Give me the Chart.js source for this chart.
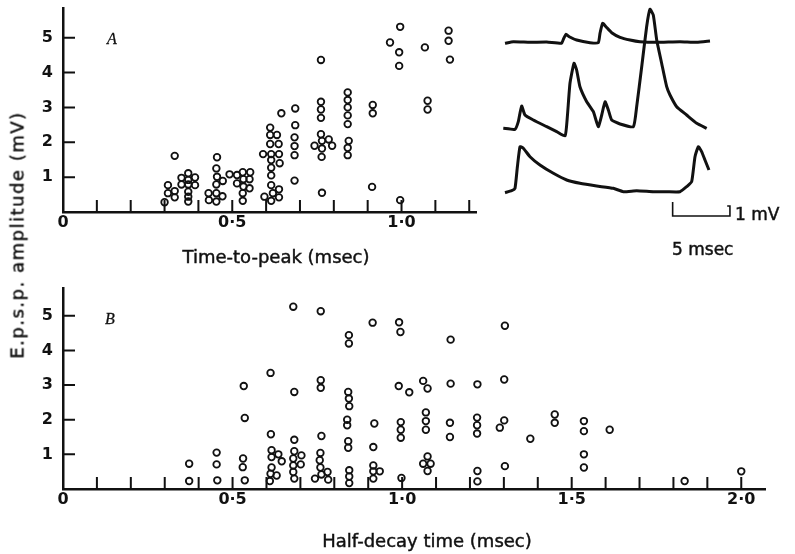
<!DOCTYPE html>
<html>
<head>
<meta charset="utf-8">
<script src="https://cdn.jsdelivr.net/npm/chart.js@4.4.1/dist/chart.umd.min.js"></script>
<style>
  body { margin: 0; background: #fff; width: 795px; height: 554px; position: relative; overflow: hidden;
         font-family: "DejaVu Sans", sans-serif; color: #111; }
  canvas { position: absolute; }
  .lbl { position: absolute; white-space: nowrap; font-size: 18px; transform: translate(-50%, -50%);
         -webkit-text-stroke: 0.45px #111; }
  .tag { position: absolute; font-family: "Liberation Serif", serif; font-style: italic; font-size: 16px;
         transform: translate(-50%, -50%); -webkit-text-stroke: 0.3px #111; }
</style>
</head>
<body>
<canvas id="chartA" width="490" height="280" style="left:0;top:0"></canvas>
<canvas id="chartB" width="795" height="274" style="left:0;top:280px"></canvas>
<canvas id="traces" width="275" height="250" style="left:490px;top:0"></canvas>

<div class="lbl" style="left:17px;top:235px;transform:translate(-50%,-50%) rotate(-90deg);letter-spacing:1.5px">E.p.s.p. amplitude (mV)</div>
<div class="lbl" style="left:276px;top:256px">Time-to-peak (msec)</div>
<div class="lbl" style="left:427px;top:540px">Half-decay time (msec)</div>
<div class="tag" style="left:112px;top:39px">A</div>
<div class="tag" style="left:110px;top:319px">B</div>
<div class="lbl" style="left:735px;top:214px;transform:translate(0,-50%);font-size:17px">1 mV</div>
<div class="lbl" style="left:672px;top:249px;transform:translate(0,-50%);font-size:17px">5 msec</div>

<script>
// panel A: time-to-peak (msec) vs e.p.s.p. amplitude (mV)
const peakA = [
  [0.31,0.77],[0.33,0.60],[0.31,0.54],[0.33,0.42],[0.30,0.28],[0.33,1.61],
  [0.37,1.11],[0.35,0.98],[0.39,0.99],[0.37,0.92],[0.35,0.79],[0.37,0.79],[0.39,0.77],[0.37,0.58],[0.37,0.44],[0.37,0.30],
  [0.455,1.57],[0.453,1.25],[0.455,1.01],[0.472,0.89],[0.453,0.79],[0.43,0.54],[0.453,0.54],[0.471,0.45],[0.431,0.34],[0.453,0.30],
  [0.492,1.08],
  [0.514,1.06],[0.531,1.14],[0.553,1.14],[0.514,0.82],[0.533,0.94],[0.551,0.94],[0.533,0.73],[0.551,0.68],[0.531,0.54],[0.531,0.32],
  [0.612,2.42],[0.612,2.21],[0.632,2.21],[0.612,1.95],[0.637,1.95],[0.591,1.66],[0.615,1.66],[0.638,1.66],[0.615,1.49],[0.640,1.40],
  [0.615,1.27],[0.615,1.05],[0.615,0.77],[0.638,0.65],[0.595,0.44],[0.620,0.54],[0.615,0.32],[0.638,0.42],[0.645,2.83],
  [0.686,2.97],[0.686,2.49],[0.684,2.14],[0.684,1.89],[0.684,1.63],[0.684,0.90],
  [0.762,4.36],[0.762,3.16],[0.762,2.94],[0.762,2.70],[0.762,2.23],[0.743,1.90],[0.765,2.04],[0.785,2.08],[0.795,1.90],[0.765,1.82],[0.764,1.58],[0.765,0.55],
  [0.841,3.43],[0.841,3.21],[0.841,3.00],[0.841,2.77],[0.841,2.52],[0.844,2.04],[0.841,1.84],[0.841,1.63],
  [0.915,3.07],[0.915,2.83],[0.913,0.72],
  [0.996,5.31],[0.966,4.86],[0.993,4.58],[0.993,4.19],[0.996,0.34],
  [1.069,4.72],[1.077,3.19],[1.077,2.94],
  [1.139,5.20],[1.139,4.91],[1.143,4.37]
];

// panel B: half-decay time (msec) vs e.p.s.p. amplitude (mV)
const decayB = [
  [0.372,0.73],[0.372,0.23],
  [0.453,1.05],[0.453,0.71],[0.455,0.25],
  [0.533,2.97],[0.536,2.05],[0.531,0.88],[0.530,0.63],[0.536,0.25],
  [0.612,3.35],[0.613,1.58],[0.615,1.12],[0.615,0.92],[0.635,1.00],[0.645,0.80],[0.615,0.62],[0.612,0.44],[0.630,0.39],[0.610,0.23],
  [0.679,5.26],[0.682,2.80],[0.682,1.42],[0.682,1.09],[0.679,0.88],[0.703,0.97],[0.701,0.71],[0.679,0.68],[0.679,0.49],[0.682,0.30],
  [0.760,5.13],[0.760,3.14],[0.760,2.92],[0.762,1.53],[0.759,1.04],[0.757,0.83],[0.759,0.62],[0.762,0.42],[0.743,0.30],[0.780,0.49],[0.782,0.27],
  [0.843,4.44],[0.843,4.20],[0.841,2.80],[0.843,2.61],[0.844,2.39],[0.838,2.00],[0.838,1.84],[0.841,1.38],[0.841,1.19],[0.844,0.54],[0.844,0.36],[0.844,0.17],
  [0.913,4.80],[0.918,1.89],[0.915,1.21],[0.915,0.68],[0.934,0.51],[0.915,0.51],[0.915,0.30],
  [0.991,4.81],[0.995,4.53],[0.990,2.97],[1.021,2.79],[0.996,1.93],[0.996,1.71],[0.996,1.48],[0.998,0.32],
  [1.062,3.12],[1.075,2.90],[1.070,2.21],[1.070,1.96],[1.070,1.71],[1.075,0.94],[1.062,0.73],[1.084,0.73],[1.075,0.52],
  [1.143,4.31],[1.143,3.04],[1.141,1.91],[1.141,1.50],
  [1.222,3.02],[1.221,2.06],[1.221,1.84],[1.221,1.60],[1.222,0.52],[1.222,0.22],
  [1.303,4.71],[1.301,3.16],[1.301,1.98],[1.288,1.77],[1.303,0.66],
  [1.378,1.45],
  [1.450,2.15],[1.450,1.91],
  [1.536,1.96],[1.536,1.67],[1.536,1.00],[1.536,0.62],
  [1.612,1.71],
  [1.833,0.23],
  [2.000,0.51]
];

// axis ticks and labels
const xTicksA = [0, 0.1, 0.2, 0.3, 0.4, 0.5, 0.6, 0.7, 0.8, 0.9, 1.0, 1.1, 1.2];
const xTicksB = [0, 0.1, 0.2, 0.3, 0.4, 0.5, 0.6, 0.7, 0.8, 0.9, 1.0, 1.1, 1.2, 1.3, 1.4, 1.5, 1.6, 1.7, 1.8, 1.9, 2.0];
const xLabelAt = [0, 0.5, 1.0, 1.5, 2.0];
const xLabelText = ['0', '0·5', '1·0', '1·5', '2·0'];
const yTicks = [1, 2, 3, 4, 5];

// inset recordings: time (msec) vs potential (mV), traces offset vertically
const traceTop = [
  [1.31,20.67],[2.04,20.83],[3.49,20.77],[4.95,20.8],[6.25,20.67],[6.40,21.07],[6.63,21.57],[6.92,21.33],[7.56,21.0],
  [8.73,20.73],[9.45,20.73],[9.60,21.67],[9.83,22.67],[10.12,22.33],[10.62,21.73],[11.35,21.27],[12.22,21.0],
  [13.09,20.83],[14.55,20.77],[16.58,20.83],[18.04,20.77],[19.2,20.9]
];
const traceMid = [
  [1.16,12.17],[2.18,12.07],[2.47,12.83],[2.76,14.4],[3.05,13.5],[3.78,13.0],[4.95,12.33],[5.82,11.83],[6.55,11.4],
  [6.75,13.33],[6.98,16.67],[7.33,18.67],[7.56,18.0],[7.85,16.33],[8.44,14.83],[9.02,13.83],[9.45,12.33],
  [9.75,13.5],[10.04,14.83],[10.33,14.0],[10.62,13.0],[11.35,12.6],[12.51,12.33],[12.8,14.33],[13.24,18.33],
  [13.67,22.33],[13.96,24.07],[14.25,23.5],[14.55,21.0],[14.98,18.67],[15.42,16.33],[15.71,15.5],[16.29,14.33],
  [17.16,13.5],[18.04,12.67],[18.91,12.17]
];
const traceLow = [
  [1.31,5.73],[1.89,5.93],[2.18,6.17],[2.39,8.33],[2.62,10.33],[2.91,10.17],[3.49,9.33],[4.36,8.5],[5.53,7.67],
  [6.69,7.0],[7.85,6.67],[9.31,6.4],[10.76,6.17],[11.64,5.83],[12.8,5.93],[14.25,5.83],[15.42,5.83],[16.58,5.83],
  [17.16,6.33],[17.6,6.83],[17.89,9.33],[18.18,10.33],[18.47,9.83],[18.76,9.0],[19.11,8.0]
];
// 5 msec x 1 mV calibration bar
const scaleBar = [[15.94,4.8],[15.94,3.4],[20.94,3.4],[20.94,4.4],[20.7,4.4]];

const ink = '#111';
const tickFont = { family: 'DejaVu Sans', size: 16, weight: 'bold' };

const inwardTicks = {
  id: 'inwardTicks',
  afterDraw(chart) {
    const { ctx, chartArea: a, scales: { x, y } } = chart;
    ctx.save();
    ctx.strokeStyle = ink;
    ctx.lineWidth = 2;
    ctx.beginPath();
    x.ticks.forEach(t => {
      if (t.value === 0) return;
      const px = x.getPixelForValue(t.value);
      ctx.moveTo(px, a.bottom);
      ctx.lineTo(px, a.bottom - 12);
    });
    y.ticks.forEach(t => {
      const py = y.getPixelForValue(t.value);
      ctx.moveTo(a.left, py);
      ctx.lineTo(a.left + 12, py);
    });
    ctx.stroke();
    ctx.restore();
  }
};

function scatterChart(id, points, xMax, yMax, xTicks, xHeight, padRight) {
  return new Chart(document.getElementById(id), {
    type: 'scatter',
    data: {
      datasets: [{
        data: points.map(([x, y]) => ({ x, y })),
        pointRadius: 3.3,
        pointBorderWidth: 1.8,
        borderColor: ink,
        backgroundColor: 'rgba(0,0,0,0)'
      }]
    },
    options: {
      responsive: false,
      animation: false,
      layout: { padding: { top: 8, right: padRight, left: 0, bottom: 0 } },
      plugins: { legend: { display: false }, tooltip: { enabled: false } },
      scales: {
        x: {
          type: 'linear', min: 0, max: xMax,
          grid: { display: false, drawTicks: false },
          border: { display: true, color: ink, width: 2.5 },
          afterBuildTicks: s => { s.ticks = xTicks.map(v => ({ value: v })); },
          ticks: {
            autoSkip: false, maxRotation: 0, padding: 1, color: ink, font: tickFont,
            callback: v => {
              const i = xLabelAt.findIndex(p => Math.abs(p - v) < 1e-6);
              return i < 0 ? '' : xLabelText[i];
            }
          },
          afterFit: s => { s.height = xHeight; s.paddingLeft = 0; s.paddingRight = 0; }
        },
        y: {
          type: 'linear', min: 0, max: yMax,
          grid: { display: false, drawTicks: false },
          border: { display: true, color: ink, width: 2.5 },
          afterBuildTicks: s => { s.ticks = yTicks.map(v => ({ value: v })); },
          ticks: { padding: 10, color: ink, font: tickFont, callback: v => String(v) },
          afterFit: s => { s.width = 63; s.paddingTop = 0; s.paddingBottom = 0; }
        }
      }
    },
    plugins: [inwardTicks]
  });
}

scatterChart('chartA', peakA, 1.22, 5.85, xTicksA, 68, 14);
scatterChart('chartB', decayB, 2.07, 5.8, xTicksB, 65, 30);

const traceStyle = { showLine: true, borderColor: ink, borderWidth: 3, pointRadius: 0, tension: 0.15 };
new Chart(document.getElementById('traces'), {
  type: 'scatter',
  data: {
    datasets: [
      { ...traceStyle, data: traceTop.map(([x, y]) => ({ x, y })) },
      { ...traceStyle, data: traceMid.map(([x, y]) => ({ x, y })) },
      { ...traceStyle, data: traceLow.map(([x, y]) => ({ x, y })) },
      { ...traceStyle, borderWidth: 1.6, tension: 0, data: scaleBar.map(([x, y]) => ({ x, y })) }
    ]
  },
  options: {
    responsive: false,
    animation: false,
    layout: { padding: 0 },
    plugins: { legend: { display: false }, tooltip: { enabled: false } },
    scales: {
      x: { type: 'linear', min: 0, max: 24, display: false },
      y: { type: 'linear', min: 0, max: 25, display: false }
    }
  }
});
</script>
</body>
</html>
